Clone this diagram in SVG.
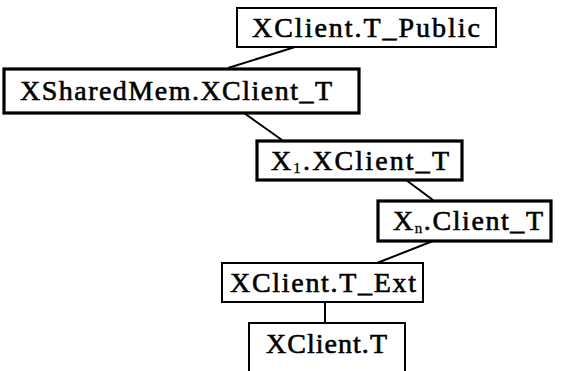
<svg xmlns="http://www.w3.org/2000/svg" width="583" height="371" viewBox="0 0 583 371">
<style>
.box{fill:#fff;stroke:#000}
.thin{stroke-width:2}
.thick{stroke-width:3.2}
.t{font-family:"Liberation Serif","Times New Roman",serif;font-size:28px;fill:#000;stroke:#000;stroke-width:0.6}
.sub{font-size:15px;stroke-width:0.3}
.c{stroke:#000;stroke-width:2;fill:none}
</style>
<rect width="583" height="371" fill="#fff"/>
<g id="connectors">
<line class="c" x1="295" y1="47" x2="228" y2="68"/>
<line class="c" x1="244" y1="113" x2="282" y2="140"/>
<line class="c" x1="406" y1="180" x2="433" y2="200"/>
<line class="c" x1="433" y1="241" x2="377" y2="263"/>
<line class="c" x1="325" y1="302" x2="325" y2="322"/>
</g>
<g id="n1"><rect class="box thin" x="237" y="8" width="259" height="39"/><text class="t" x="252" y="37" textLength="228" lengthAdjust="spacing">XClient.T_Public</text></g>
<g id="n2"><rect class="box thick" x="4" y="69" width="355" height="44"/><text class="t" x="20" y="100" textLength="312" lengthAdjust="spacing">XSharedMem.XClient_T</text></g>
<g id="n3"><rect class="box thick" x="257" y="141" width="205" height="39"/><text class="t" x="271" y="170" textLength="178" lengthAdjust="spacing">X<tspan class="sub" dy="3">1</tspan><tspan dy="-3">.XClient_T</tspan></text></g>
<g id="n4"><rect class="box thick" x="378" y="201" width="173" height="40"/><text class="t" x="393" y="230" textLength="150" lengthAdjust="spacing">X<tspan class="sub" dy="3">n</tspan><tspan dy="-3">.Client_T</tspan></text></g>
<g id="n5"><rect class="box thin" x="222" y="263" width="201" height="39"/><text class="t" x="230" y="292" textLength="186" lengthAdjust="spacing">XClient.T_Ext</text></g>
<g id="n6"><rect class="box thin" x="249" y="323" width="156" height="60"/><text class="t" x="266" y="353" textLength="121" lengthAdjust="spacing">XClient.T</text></g>
</svg>
